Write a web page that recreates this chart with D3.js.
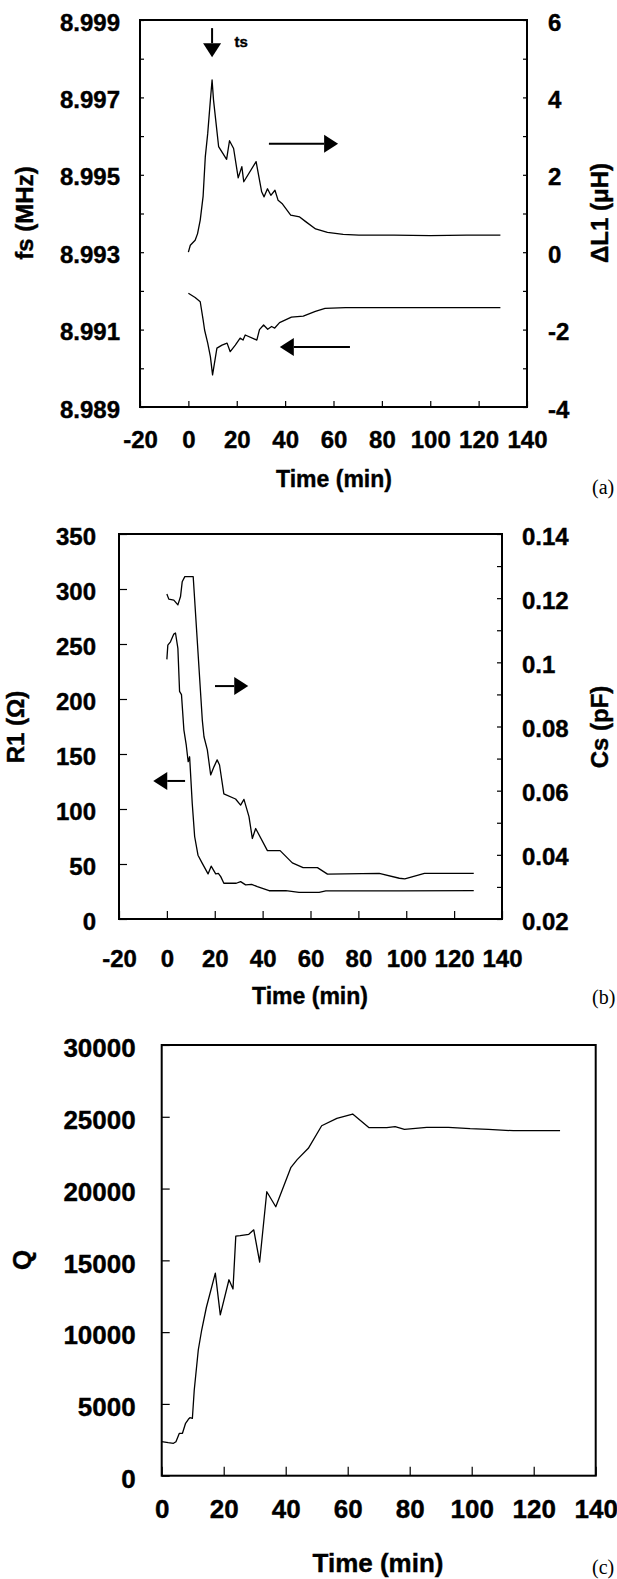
<!DOCTYPE html>
<html>
<head>
<meta charset="utf-8">
<script src="https://cdn.jsdelivr.net/npm/d3@7"></script>
<style>
body { margin: 0; background: #fff; }
svg { display: block; background: #fff; }
.tick text { font-family: "Liberation Sans", Arial, sans-serif; font-weight: bold; fill: #000; stroke: #000; stroke-width: 0.4px; }
.tick line { stroke: #000; stroke-width: 1.2px; }
.title { font-family: "Liberation Sans", Arial, sans-serif; font-weight: bold; fill: #000; stroke: #000; stroke-width: 0.4px; }
.panel { font-family: "Liberation Serif", "Times New Roman", serif; font-size: 20px; }
.curve { fill: none; stroke: #000; stroke-width: 1.3px; stroke-linejoin: round; }
.frame { fill: none; stroke: #000; stroke-width: 2px; }
</style>
</head>
<body>
<script>
// ---- panel (a): series resonance frequency and delta L1 ----
var timeL1 = [0, 0.8, 2.8, 3.8, 4.9, 6.1, 7, 8, 9.1, 9.8, 10.4, 12.5, 15.8, 17, 18.7, 20.6, 22.1, 22.9, 28, 30.3, 31.3, 32.7, 34.1, 35.8, 37.1, 38.7, 42.3, 46, 48.5, 52.6, 57.5, 64, 70.5, 85, 100, 115, 129];
var deltaL1 = [0, 0.18, 0.31, 0.48, 0.83, 1.45, 2.47, 3.07, 3.93, 4.45, 3.93, 2.73, 2.4, 2.88, 2.68, 1.92, 2.21, 1.82, 2.34, 1.56, 1.43, 1.64, 1.47, 1.6, 1.34, 1.26, 0.96, 0.91, 0.79, 0.6, 0.51, 0.46, 0.44, 0.44, 0.43, 0.44, 0.44];

var timeFs = [0, 2.8, 4.9, 6.1, 6.7, 8, 9.1, 10, 11.8, 13.9, 16, 17.3, 19.4, 21.4, 22.6, 23.5, 28.3, 29.4, 31.1, 32.8, 34.4, 35.7, 37.7, 42.6, 47.5, 52.5, 56.5, 65, 129];
var fsMHz = [8.99194, 8.99183, 8.99172, 8.99125, 8.99099, 8.99065, 8.9903, 8.98983, 8.99052, 8.9906, 8.99065, 8.99043, 8.9906, 8.99078, 8.99073, 8.99086, 8.99073, 8.991, 8.99112, 8.99101, 8.99108, 8.99104, 8.99118, 8.99132, 8.99135, 8.99147, 8.99155, 8.99157, 8.99157];

// ---- panel (b): R1 and Cs ----
var timeR1 = [0, 0.4, 1.5, 2.9, 3.6, 4.6, 5.3, 6.1, 7.1, 8.1, 8.9, 9.5, 10.6, 11.6, 13, 14.8, 17.2, 18.5, 20.4, 21.5, 22.5, 23.8, 29, 30.8, 32.9, 35.4, 37.8, 42.7, 49.7, 55.2, 63.6, 66.4, 97, 128.2];
var r1Ohm = [236, 249, 252, 259, 260, 246, 207, 204, 172, 158, 143, 147.5, 105, 75, 58, 50.6, 41, 48, 41, 41.5, 38.5, 32.5, 32.5, 34, 31, 31.5, 29.4, 25.7, 25.7, 24.2, 24.2, 25.5, 25.5, 25.8];

var timeCs = [0, 0.8, 2.9, 4.6, 5.7, 6.4, 7.5, 11, 14.8, 15.5, 16.9, 18.3, 19.7, 21, 22, 23.8, 28.7, 30.8, 32.2, 34.3, 35.7, 37.1, 42, 47.3, 52.4, 56.9, 62.9, 67.1, 88.7, 97.1, 99.4, 107.6, 128.2];
var csPF = [0.1213, 0.1197, 0.1194, 0.1179, 0.1205, 0.1251, 0.1267, 0.1267, 0.082, 0.0768, 0.0727, 0.0649, 0.0675, 0.0696, 0.068, 0.059, 0.0574, 0.0555, 0.0573, 0.0519, 0.0451, 0.0482, 0.0413, 0.0413, 0.0375, 0.036, 0.036, 0.034, 0.0342, 0.0327, 0.0325, 0.0342, 0.0342];

// ---- panel (c): quality factor ----
var timeQ = [0, 2.1, 3.8, 4.6, 5.7, 6.7, 7.7, 8.6, 9.1, 9.9, 10.5, 11.8, 12.9, 14.4, 17.3, 18.9, 21.7, 23, 23.9, 25.3, 28.1, 29.7, 31.6, 33.9, 36.8, 41.7, 43.7, 47.3, 51.6, 56.5, 61.6, 66.9, 72.6, 75.3, 78.3, 85.5, 92.5, 99.5, 105.4, 113.4, 128.5];
var qValue = [2368, 2298, 2257, 2368, 2953, 2953, 3650, 3928, 4040, 4000, 5969, 8755, 10148, 11716, 14111, 11201, 13648, 13004, 16686, 16716, 16815, 17124, 14884, 19780, 18736, 21480, 22016, 22803, 24378, 24893, 25193, 24238, 24238, 24308, 24127, 24266, 24266, 24169, 24127, 24030, 24030];

// tick values
var timeTicksAB = [-20, 0, 20, 40, 60, 80, 100, 120, 140];
var timeTicksC = [0, 20, 40, 60, 80, 100, 120, 140];
var fsTicks = d3.range(0, 11).map(function(i) { return (8989 + i) / 1000; });
var dlTicks = d3.range(-4, 7);
var r1Ticks = d3.range(0, 351, 50);
var csTicks = d3.range(2, 15).map(function(i) { return i / 100; });
var qTicks = d3.range(0, 30001, 5000);

var svg = d3.select("body").append("svg")
    .attr("width", 617)
    .attr("height", 1579);

// scales
var xA = d3.scaleLinear().domain([-20, 140]).range([140, 527]);
var yAL = d3.scaleLinear().domain([8.989, 8.999]).range([407, 20]);
var yAR = d3.scaleLinear().domain([-4, 6]).range([407, 20]);

var xB = d3.scaleLinear().domain([-20, 140]).range([119, 502]);
var yBL = d3.scaleLinear().domain([0, 350]).range([919, 534]);
var yBR = d3.scaleLinear().domain([0.02, 0.14]).range([919, 534]);

var xC = d3.scaleLinear().domain([0, 140]).range([161.7, 595.7]);
var yC = d3.scaleLinear().domain([0, 30000]).range([1475.7, 1045]);

// plain hyphen minus like the original
var plain = function(d) { return String(d); };


function addAxis(gen, transform, fontSize, dy) {
    var g = svg.append("g").attr("transform", transform).call(gen);
    g.select(".domain").remove();
    g.selectAll("text").style("font-size", fontSize + "px");
    if (dy) g.selectAll("text").attr("dy", dy);
    return g;
}

function frame(x, y) {
    svg.append("rect").attr("class", "frame")
        .attr("x", x.range()[0])
        .attr("y", y.range()[1])
        .attr("width", x.range()[1] - x.range()[0])
        .attr("height", y.range()[0] - y.range()[1]);
}

function curve(xs, ys, x, y) {
    var line = d3.line()
        .x(function(d, i) { return x(xs[i]); })
        .y(function(d, i) { return y(ys[i]); });
    svg.append("path").attr("class", "curve").attr("d", line(xs));
}

function arrow(x1, y1, x2, y2) {
    // straight arrow from (x1,y1) to tip (x2,y2), pixels
    var len = Math.hypot(x2 - x1, y2 - y1);
    var ux = (x2 - x1) / len, uy = (y2 - y1) / len;
    var bx = x2 - ux * 14, by = y2 - uy * 14;
    svg.append("line")
        .attr("x1", x1).attr("y1", y1).attr("x2", bx).attr("y2", by)
        .attr("stroke", "#000").attr("stroke-width", 2);
    svg.append("path")
        .attr("d", "M" + x2 + "," + y2 + "L" + (bx - uy * 9) + "," + (by + ux * 9) +
            "L" + (bx + uy * 9) + "," + (by - ux * 9) + "Z")
        .attr("fill", "#000");
}

function title(text, x, y, size, rotate) {
    svg.append("text").attr("class", "title")
        .attr("transform", "translate(" + x + "," + y + ")" + (rotate ? " rotate(-90)" : ""))
        .attr("text-anchor", "middle")
        .style("font-size", size + "px")
        .text(text);
}

function panelLabel(text, x, y) {
    svg.append("text").attr("class", "panel").attr("x", x).attr("y", y).text(text);
}

// ================= (a) =================
addAxis(d3.axisBottom(xA).tickValues(timeTicksAB).tickSizeInner(-6).tickSizeOuter(0).tickPadding(24)
    .tickFormat(plain),
    "translate(0,407)", 24);
addAxis(d3.axisLeft(yAL).tickValues(fsTicks).tickSizeInner(-4).tickSizeOuter(0).tickPadding(20)
    .tickFormat(function(d, i) { return i % 2 === 0 ? d.toFixed(3) : ""; }),
    "translate(140,0)", 24, "0.42em");
addAxis(d3.axisRight(yAR).tickValues(dlTicks).tickSizeInner(-4).tickSizeOuter(0).tickPadding(21)
    .tickFormat(function(d) { return d % 2 === 0 ? String(d) : ""; }),
    "translate(527,0)", 24, "0.42em");
frame(xA, yAL);
curve(timeL1, deltaL1, xA, yAR);
curve(timeFs, fsMHz, xA, yAL);

arrow(xA(9.8), yAR(5.79), xA(9.8), yAR(5.04));
svg.append("text").attr("class", "title")
    .attr("x", xA(19.1)).attr("y", yAR(5.31))
    .style("font-size", "15px").text("ts");
arrow(xA(33.3), yAR(2.8), xA(61.9), yAR(2.8));
arrow(xA(66.8), yAR(-2.45), xA(37.8), yAR(-2.45));

title("Time (min)", 334, 487, 23, false);
title("fs (MHz)", 33, 213, 24, true);
title("\u0394L1 (\u03bcH)", 608, 213, 24, true);
panelLabel("(a)", 592, 494);

// ================= (b) =================
addAxis(d3.axisBottom(xB).tickValues(timeTicksAB).tickSizeInner(-8).tickSizeOuter(0).tickPadding(31)
    .tickFormat(plain),
    "translate(0,919)", 24);
addAxis(d3.axisLeft(yBL).tickValues(r1Ticks).tickSizeInner(-8).tickSizeOuter(0).tickPadding(23)
    .tickFormat(plain),
    "translate(119,0)", 24, "0.42em");
addAxis(d3.axisRight(yBR).tickValues(csTicks).tickSizeInner(-5).tickSizeOuter(0).tickPadding(20)
    .tickFormat(function(d, i) { return i % 2 === 0 ? String(+d.toFixed(2)) : ""; }),
    "translate(502,0)", 24, "0.42em");
frame(xB, yBL);
curve(timeR1, r1Ohm, xB, yBL);
curve(timeCs, csPF, xB, yBR);

arrow(xB(20.1), yBR(0.0926), xB(34.0), yBR(0.0926));
arrow(xB(7.6), yBL(125.5), xB(-5.7), yBL(125.5));

title("Time (min)", 310, 1004, 23, false);
title("R1 (\u03a9)", 24, 727, 24, true);
title("Cs (pF)", 608, 727, 24, true);
panelLabel("(b)", 592, 1004);

// ================= (c) =================
addAxis(d3.axisBottom(xC).tickValues(timeTicksC).tickSizeInner(-9).tickSizeOuter(0).tickPadding(24)
    .tickFormat(plain),
    "translate(0,1475.7)", 26);
addAxis(d3.axisLeft(yC).tickValues(qTicks).tickSizeInner(-8).tickSizeOuter(0).tickPadding(26)
    .tickFormat(plain),
    "translate(161.7,0)", 26, "0.45em");
frame(xC, yC);
curve(timeQ, qValue, xC, yC);

title("Time (min)", 378, 1572, 26, false);
title("Q", 31, 1260, 26, true);
panelLabel("(c)", 592, 1574);
</script>
</body>
</html>
